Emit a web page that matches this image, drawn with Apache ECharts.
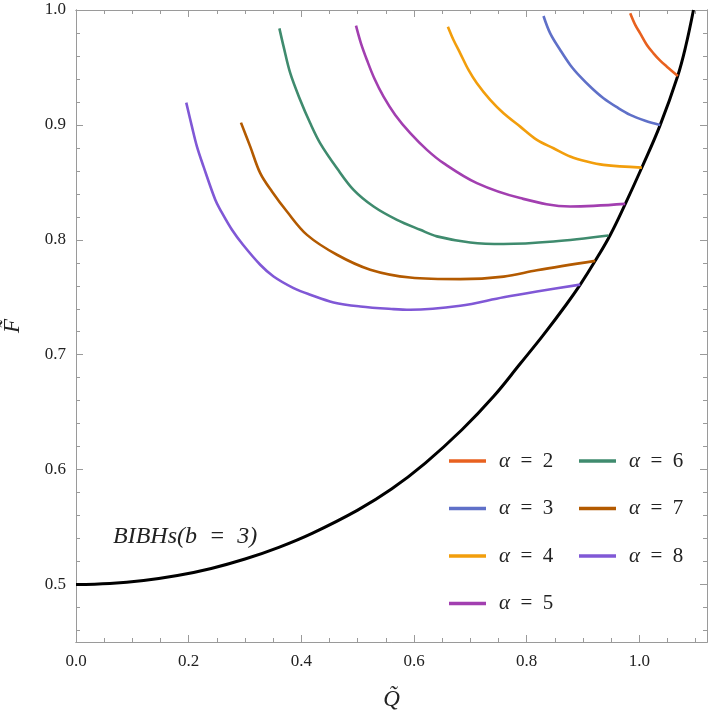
<!DOCTYPE html>
<html>
<head>
<meta charset="utf-8">
<script src="https://cdn.jsdelivr.net/npm/echarts@6/dist/echarts.min.js"></script>
<style>
  html, body { margin: 0; padding: 0; background: #fff; }
  #chart { width: 710px; height: 716px; }
</style>
</head>
<body>
<div id="chart"></div>
<script>
// tick positions
var xMajor = [0, 0.2, 0.4, 0.6, 0.8, 1.0];
var xMinor = [0.05, 0.1, 0.15, 0.25, 0.3, 0.35, 0.45, 0.5, 0.55, 0.65, 0.7, 0.75, 0.85, 0.9, 0.95, 1.05, 1.1];
var yMajor = [0.5, 0.6, 0.7, 0.8, 0.9, 1.0];
var yMinor = [0.46, 0.48, 0.52, 0.54, 0.56, 0.58, 0.62, 0.64, 0.66, 0.68, 0.72, 0.74, 0.76, 0.78,
              0.82, 0.84, 0.86, 0.88, 0.92, 0.94, 0.96, 0.98];

// BIBHs (b=3) boundary curve
var qB = [0, 0.06, 0.12, 0.18, 0.24, 0.3, 0.36, 0.42, 0.5, 0.56, 0.62, 0.685, 0.741, 0.788, 0.83, 0.87, 0.895, 0.9216, 0.948, 0.975, 1.004, 1.037, 1.068, 1.082, 1.096];
var fB = [0.5, 0.5009, 0.5035, 0.5078, 0.514, 0.5222, 0.5324, 0.5448, 0.5648, 0.5831, 0.6057, 0.6347, 0.6636, 0.6919, 0.7175, 0.7435, 0.761, 0.7817, 0.804, 0.8313, 0.8625, 0.9, 0.9426, 0.968, 1.0];

// alpha curves
var q2 = [0.9837, 0.9926, 1.0014, 1.0133, 1.025, 1.0369, 1.0488, 1.0683];
var f2 = [0.9971, 0.987, 0.9797, 0.9696, 0.9623, 0.9559, 0.9507, 0.9426];
var q3 = [0.8298, 0.8417, 0.8595, 0.8772, 0.895, 0.9157, 0.9363, 0.96, 0.9837, 1.0103, 1.0369];
var f3 = [0.9948, 0.9797, 0.9652, 0.9522, 0.942, 0.9319, 0.9232, 0.9154, 0.9087, 0.9037, 0.9];
var q4 = [0.6601, 0.6701, 0.682, 0.6967, 0.7116, 0.7352, 0.7589, 0.7885, 0.8181, 0.8476, 0.8772, 0.9068, 0.9363, 1.0044];
var f4 = [0.9855, 0.9739, 0.9623, 0.9478, 0.9362, 0.9217, 0.9101, 0.8985, 0.887, 0.8797, 0.8725, 0.8681, 0.8652, 0.8628];
var q5 = [0.497, 0.5058, 0.5164, 0.5294, 0.5459, 0.5666, 0.5933, 0.6229, 0.6524, 0.7116, 0.7885, 0.8772, 0.9748];
var f5 = [0.9864, 0.971, 0.9565, 0.9406, 0.9246, 0.9087, 0.8928, 0.8783, 0.8667, 0.8493, 0.8363, 0.829, 0.8313];
var q6 = [0.361, 0.3685, 0.3803, 0.398, 0.4158, 0.4335, 0.4632, 0.4927, 0.5282, 0.5697, 0.611, 0.6406, 0.6997, 0.759, 0.8476, 0.945];
var f6 = [0.984, 0.9681, 0.945, 0.9217, 0.9014, 0.884, 0.8623, 0.8435, 0.829, 0.8174, 0.8087, 0.803, 0.7977, 0.7963, 0.7985, 0.8037];
var q7 = [0.2928, 0.3093, 0.327, 0.3478, 0.3744, 0.41, 0.4632, 0.5223, 0.593, 0.682, 0.759, 0.818, 0.9216];
var f7 = [0.902, 0.8811, 0.858, 0.842, 0.8246, 0.8043, 0.787, 0.774, 0.7672, 0.7658, 0.768, 0.7735, 0.7817];
var q8 = [0.1957, 0.2058, 0.2147, 0.2264, 0.2472, 0.2561, 0.2768, 0.2964, 0.327, 0.3507, 0.3862, 0.4158, 0.4572, 0.5045, 0.5636, 0.593, 0.682, 0.759, 0.818, 0.895];
var f8 = [0.9194, 0.8985, 0.8811, 0.8637, 0.8348, 0.8261, 0.8087, 0.7957, 0.7783, 0.7681, 0.758, 0.7522, 0.7455, 0.742, 0.7397, 0.7391, 0.7426, 0.75, 0.755, 0.761];

var alphaNames = ['α = 2', 'α = 3', 'α = 4', 'α = 5', 'α = 6', 'α = 7', 'α = 8'];
var alphaQ = [q2, q3, q4, q5, q6, q7, q8];
var alphaF = [f2, f3, f4, f5, f6, f7, f8];
var alphaColors = ['#e8611f', '#5f70c8', '#f29e0c', '#a23fb0', '#3f8b6e', '#b35a00', '#8058d6'];

function zip(a, b) {
  var out = [];
  for (var i = 0; i < a.length; i++) out.push([a[i], b[i]]);
  return out;
}

var serif = 'Liberation Serif';
var frameColor = '#9a9a9a';

function xAxisOf(pos, ticks, len, labels) {
  return {
    type: 'value', position: pos, min: 0, max: 1.12,
    axisLine: { show: true, onZero: false, lineStyle: { color: frameColor, width: 1 } },
    axisTick: { show: true, inside: true, length: len, customValues: ticks, lineStyle: { color: frameColor } },
    axisLabel: labels ? {
      show: true, customValues: ticks, margin: 11, color: '#222', fontFamily: serif, fontSize: 17,
      formatter: function (v) { return v.toFixed(1); }
    } : { show: false },
    splitLine: { show: false }
  };
}
function yAxisOf(pos, ticks, len, labels) {
  return {
    type: 'value', position: pos, min: 0.45, max: 1.0,
    axisLine: { show: true, onZero: false, lineStyle: { color: frameColor, width: 1 } },
    axisTick: { show: true, inside: true, length: len, customValues: ticks, lineStyle: { color: frameColor } },
    axisLabel: labels ? {
      show: true, customValues: ticks, margin: 10, color: '#222', fontFamily: serif, fontSize: 17,
      formatter: function (v) { return v.toFixed(1); }
    } : { show: false },
    splitLine: { show: false }
  };
}

var xMain = xAxisOf('bottom', xMajor, 7, true);
xMain.name = 'Q\u0303';
xMain.nameLocation = 'middle';
xMain.nameGap = 46;
xMain.nameTextStyle = { fontFamily: serif, fontStyle: 'italic', fontSize: 23, color: '#222' };
var yMain = yAxisOf('left', yMajor, 7, true);
yMain.name = 'F\u0303';
yMain.nameLocation = 'middle';
yMain.nameGap = 52;
yMain.nameRotate = 90;
yMain.nameTextStyle = { fontFamily: serif, fontStyle: 'italic', fontSize: 23, color: '#222' };

var series = [{
  name: 'BIBHs', type: 'line', xAxisIndex: 0, yAxisIndex: 0,
  data: zip(qB, fB), symbol: 'none', smooth: 0.4,
  lineStyle: { color: '#000', width: 3 }, z: 2
}];
for (var i = 0; i < alphaNames.length; i++) {
  series.push({
    name: alphaNames[i], type: 'line', xAxisIndex: 0, yAxisIndex: 0,
    data: zip(alphaQ[i], alphaF[i]), symbol: 'none', smooth: 0.35,
    color: alphaColors[i],
    lineStyle: { color: alphaColors[i], width: 2.6 }, z: 3
  });
}

function legendOf(left, names) {
  return {
    orient: 'vertical', left: left, top: 444,
    data: names, icon: 'rect', itemWidth: 37, itemHeight: 3.5, itemGap: 23.5,
    selectedMode: false,
    formatter: function (n) { return '{i|α}{t|  =  ' + n.slice(4) + '}'; },
    textStyle: {
      fontFamily: serif, fontSize: 21, color: '#222', lineHeight: 24, padding: [0, 0, 0, 8],
      rich: {
        i: { fontFamily: serif, fontStyle: 'italic', fontSize: 21, color: '#222' },
        t: { fontFamily: serif, fontSize: 21, color: '#222' }
      }
    }
  };
}

var chart = echarts.init(document.getElementById('chart'));
chart.setOption({
  animation: false,
  backgroundColor: '#fff',
  grid: { left: 76, right: 3, top: 10, bottom: 74, containLabel: false, outerBoundsMode: 'none' },
  xAxis: [
    xMain,
    xAxisOf('bottom', xMinor, 4, false),
    xAxisOf('top', xMajor, 7, false),
    xAxisOf('top', xMinor, 4, false)
  ],
  yAxis: [
    yMain,
    yAxisOf('left', yMinor, 4, false),
    yAxisOf('right', yMajor, 7, false),
    yAxisOf('right', yMinor, 4, false)
  ],
  legend: [legendOf(444, alphaNames.slice(0, 4)), legendOf(574, alphaNames.slice(4))],
  graphic: [{
    type: 'text', left: 113, top: 525,
    style: { text: 'BIBHs(b  =  3)', fontFamily: serif, fontStyle: 'italic', fontSize: 24, fill: '#222' }
  }],
  series: series
});
</script>
</body>
</html>
